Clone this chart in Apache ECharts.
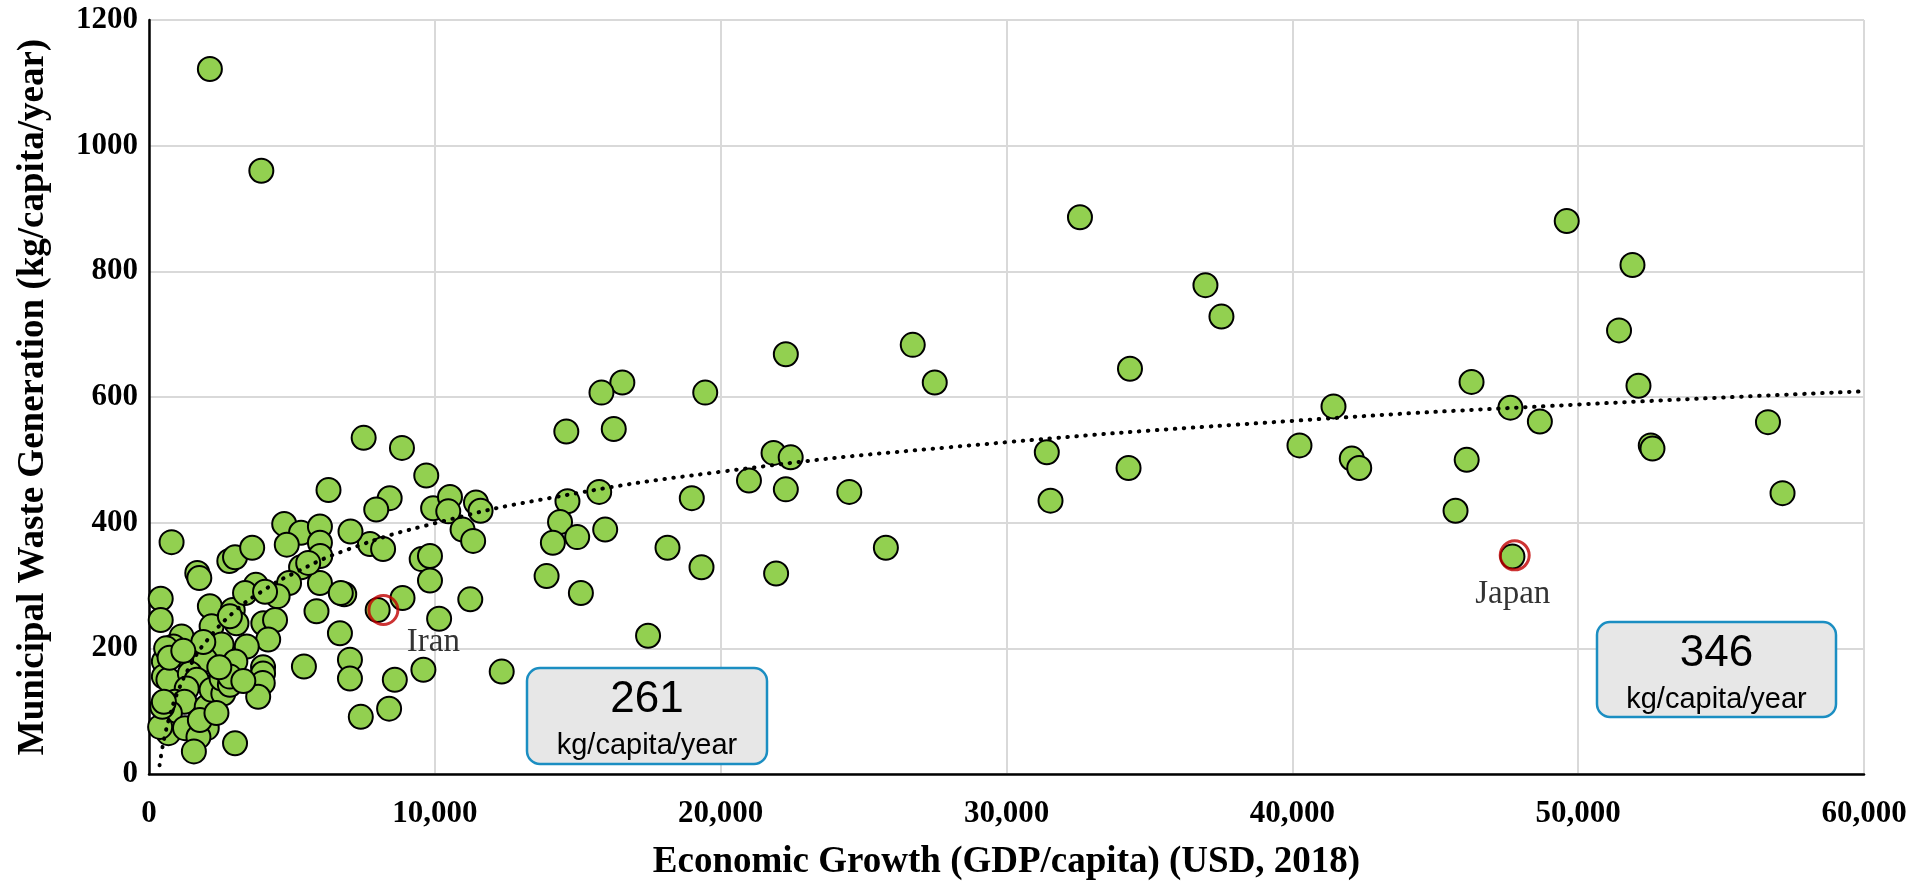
<!DOCTYPE html>
<html><head><meta charset="utf-8">
<script src="https://cdn.jsdelivr.net/npm/echarts@6.0.0/dist/echarts.min.js"></script>
<style>html,body{margin:0;padding:0;background:#fff}#c{width:1914px;height:882px}</style>
</head><body><div id="c"></div>
<script>
// GDP per capita (USD, 2018) and municipal waste (kg/capita/year)
const gdpPerCapita = [
 2130,3930,32570,49600,51900,36960,37520,51430,26720,22280,34320,27490,16560,46270,52110,15830,19460,41440,47630,16260,
 14600,48660,56640,31410,52540,52600,40250,21850,22450,42080,46100,42340,34270,20990,24500,15750,22280,57150,14640,31540,
 18990,45710,14380,15960,14130,14980,18140,25780,47700,13910,21940,19330,15110,17460,12340,7510,8850,6280,9700,8420,
 7950,9940,10530,10470,11440,11600,10970,11340,7730,8190,7050,9540,9830,9830,8870,11240,10150,6830,6680,7030,
 7030,8600,9600,7410,8400,5420,8000,4730,5320,5980,5980,4820,5990,790,2810,3010,3610,1690,1760,5320,
 5980,6710,3740,4900,4500,5860,410,410,2130,2930,3060,2190,4000,4410,4170,3420,2540,1140,850,520,
 520,680,1320,1960,3020,1430,1670,1320,910,1240,2020,2190,2600,2540,2830,2830,3360,4060,2830,1900,
 3990,3990,3980,3820,620,730,680,1260,2020,1730,1570,3010,1780,5570,600,720,1200,2460,3300,2360,
 390,465,520
];
const wastePerCapita = [
 1122,960,886,880,810,778,728,706,683,668,645,623,623,624,618,607,607,585,583,549,
 545,561,560,512,523,518,523,511,504,502,500,487,487,467,449,449,453,447,434,435,
 439,419,401,389,368,377,360,360,346,315,319,329,288,220,163,535,519,452,475,439,
 421,423,441,418,432,419,389,371,366,358,386,342,347,308,280,278,247,286,224,182,
 152,150,166,91,104,171,261,398,384,394,368,365,347,369,339,345,360,320,312,329,
 304,288,301,304,283,259,279,245,267,261,240,235,240,245,214,203,206,219,203,179,
 155,150,187,182,179,160,150,136,115,115,107,134,128,152,142,155,288,290,251,210,
 170,160,145,123,78,97,65,73,73,59,36,49,86,336,200,185,196,170,148,97,
 75,107,115
];
// logarithmic trendline
const trendGdp   = [370,450,550,700,1000,1500,2000,3000,4000,5000,7000,10000,14000,20000,28000,40000,50000,60000];
const trendWaste = [14,37,60,88,130,177,211,259,292,318,358,399,439,481,520,562,588,609];
// highlighted countries
const highlightNames = ['Iran','Japan'];
const highlightGdp   = [8200,47780];
const highlightWaste = [261,348];
const highlightBoxValues = ['261','346'];
const boxUnit = 'kg/capita/year';
const xTickStep = 10000, xMax = 60000, yTickStep = 200, yMax = 1200;

const serif = '"Liberation Serif","Times New Roman",serif';
const sans = '"Liberation Sans",Arial,sans-serif';

const chart = echarts.init(document.getElementById('c'), null, {renderer:'canvas'});
const pts = gdpPerCapita.map((g,i)=>[g, wastePerCapita[i]]);
const trend = trendGdp.map((g,i)=>[g, trendWaste[i]]);
const labelOffsets = [[50,32],[-2,39]];
const rings = highlightNames.map((n,i)=>({name:n, value:[highlightGdp[i], highlightWaste[i]],
  label:{offset:labelOffsets[i]}}));

function box(x,y,w,h,val){
  return {type:'group', zlevel:1, z:100, children:[
    {type:'rect', zlevel:1, z:100, shape:{x:x,y:y,width:w,height:h,r:13},
     style:{fill:'#E7E7E7', stroke:'#1B8EC2', lineWidth:2.5}},
    {type:'text', zlevel:1, z:101, style:{text:val, x:x+w/2, y:y+32, font:'44px '+sans, fill:'#000',
      textAlign:'center', textVerticalAlign:'middle', align:'center', verticalAlign:'middle'}},
    {type:'text', zlevel:1, z:101, style:{text:boxUnit, x:x+w/2, y:y+78, font:'29px '+sans, fill:'#000',
      textAlign:'center', textVerticalAlign:'middle', align:'center', verticalAlign:'middle'}}
  ]};
}

chart.setOption({
  animation:false,
  backgroundColor:'#fff',
  grid:{left:149, right:50, top:20, bottom:108, containLabel:false, outerBoundsMode:'none'},
  xAxis:{type:'value', min:0, max:xMax, interval:xTickStep,
    name:'Economic Growth (GDP/capita) (USD, 2018)', nameLocation:'middle', nameGap:70,
    nameTextStyle:{fontFamily:serif, fontWeight:'bold', fontSize:37, color:'#000'},
    axisLine:{show:true, onZero:false, lineStyle:{color:'#000', width:2.5}},
    axisTick:{show:false},
    axisLabel:{fontFamily:serif, fontWeight:'bold', fontSize:31, color:'#000', margin:24,
      formatter:v=>v.toLocaleString('en-US')},
    splitLine:{show:true, lineStyle:{color:'#D9D9D9', width:2}}
  },
  yAxis:{type:'value', min:0, max:yMax, interval:yTickStep,
    name:'Municipal Waste Generation (kg/capita/year)', nameLocation:'middle', nameGap:97,
    nameTextStyle:{fontFamily:serif, fontWeight:'bold', fontSize:37, color:'#000'},
    axisLine:{show:true, onZero:false, lineStyle:{color:'#000', width:2.5}},
    axisTick:{show:false},
    axisLabel:{fontFamily:serif, fontWeight:'bold', fontSize:31, color:'#000', margin:11,
      formatter:v=>String(v)},
    splitLine:{show:true, lineStyle:{color:'#D9D9D9', width:2}}
  },
  series:[
    {type:'scatter', data:pts, symbol:'circle', symbolSize:24, z:2,
     itemStyle:{color:'#92D050', borderColor:'#000', borderWidth:2, opacity:1},
     emphasis:{disabled:true}},
    {type:'scatter', data:rings, symbol:'circle', symbolSize:29, z:3,
     itemStyle:{color:'rgba(0,0,0,0)', borderColor:'#C00000', borderWidth:3},
     label:{show:true, formatter:'{b}', position:'inside', fontFamily:serif, fontSize:33, color:'#000'},
     emphasis:{disabled:true}},
    {type:'line', data:trend, smooth:true, symbol:'none', z:4,
     lineStyle:{color:'#000', width:4, type:[0.5,8.5], cap:'round'},
     emphasis:{disabled:true}}
  ],
  graphic:[ box(527,668,240,96,highlightBoxValues[0]), box(1597,622,239,95,highlightBoxValues[1]) ]
});
</script></body></html>
